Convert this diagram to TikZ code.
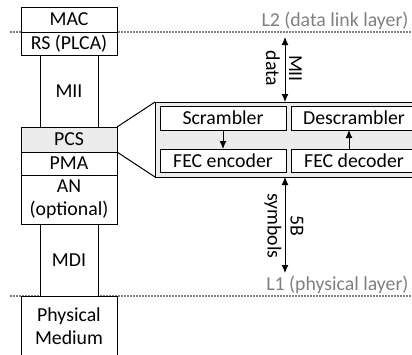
\documentclass[tikz,border=0pt]{standalone}
\usepackage{fontspec}
\setmainfont{Carlito}
\usepackage{tikz}
\usetikzlibrary{arrows.meta,positioning}

\begin{document}
\begin{tikzpicture}[
    x=1pt, y=-1pt,
    >={Latex[length=8pt,width=7pt]},
    font=\fontsize{19.8}{23}\selectfont,
    line width=1pt,
    layer/.style={
		rectangle,
		draw=black,
		fill=white,
		align=center,
		inner sep=0pt,
		outer sep=0pt,
		minimum width=96pt
	},
    iface/.style={
		layer,
		minimum width=58pt,
		minimum height=72pt
	},
    block/.style={
		layer,
		minimum width=126pt
	},
    osilayer/.style={
		draw=gray, line width=1.2pt, dash pattern=on 2pt off 1pt
	},
    osilabel/.style={
		text=gray, inner sep=0pt
	},
	label/.style={
		inner sep=0pt, align=center, rotate=-90
	}
  ]
  \useasboundingbox (0,0) rectangle (412,354);
  \clip (0,0) rectangle (412,354);

  % layer borders behind everything
  \draw [osilayer] (10,32) -- (412,32);
  \draw [osilayer] (10,296) -- (412,296);
  \node [osilabel, anchor=base east] (l2) at (409,26) {L2 (data link layer)};
  \node [osilabel, anchor=base east] (l1) at (409,290) {L1 (physical layer)};

  % We start by placing the stack
  \node [layer, minimum height=25pt] (mac) at (69,19.5) {MAC};
  \node [layer, minimum height=23pt, below=0pt of mac] (rs) {RS (PLCA)};
  \node [iface, below=0pt of rs] (mii) {MII};
  \node [layer, minimum height=25pt, fill=gray!15, below=0pt of mii] (pcs) {PCS};
  \node [layer, minimum height=23pt, below=0pt of pcs] (pma) {PMA};
  \node [layer, minimum height=49pt, below=0pt of pma] (an) {AN\\(optional)};
  \node [iface, below=0pt of an] (mdi) {MDI};
  \node [layer, minimum height=60pt, below=0pt of mdi] (phy) {Physical\\Medium};

  % inside of the PCS
  \node [layer, fill=gray!15, minimum width=267pt, minimum height=75pt] (pcsin) at (288.5,139.5) {};
  \node [block, minimum height=24pt] (scr) at (223,118) {Scrambler};
  \node [block, minimum height=23pt] (fecenc) at (223,160.5) {FEC encoder};
  \node [block, minimum height=24pt] (descr) at (354,118) {Descrambler};
  \node [block, minimum height=23pt] (fecdec) at (354,160.5) {FEC decoder};

  \draw (pcs.north east) -- (pcsin.north west);
  \draw (pcs.south east) -- (pcsin.south west);

  \draw [->] (scr) -- (fecenc);
  \draw [->] ([xshift=-5pt]fecdec.north) -- ([xshift=-5pt]descr.south);

  % data towards L2 and L1
  \coordinate (up) at (285,37);
  \coordinate (down) at (285,273);
  \draw [<->] (up) -- (up |- pcsin.north);
  \draw [<->] (up |- pcsin.south) -- (down);
  \node [label] (miidata) at (284,68.5) {MII\\data};
  \node [label] (symbols) at (284,226) {5B\\symbols};

\end{tikzpicture}
\end{document}
